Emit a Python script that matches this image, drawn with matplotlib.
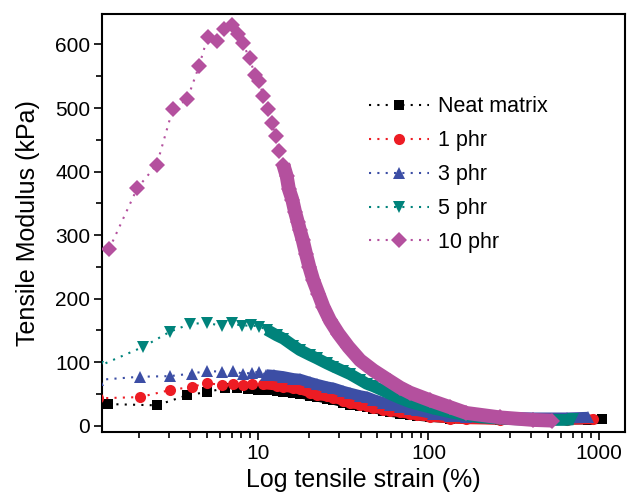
import matplotlib
matplotlib.use("Agg")
import matplotlib.pyplot as plt
from matplotlib.ticker import LogLocator, NullFormatter, MultipleLocator

plt.rcParams['font.family'] = ['Liberation Sans', 'DejaVu Sans']

# strain (%) and tensile modulus (kPa)
neat_strain = [1.32, 2.55, 3.85, 5.04, 6.40, 7.50, 8.78, 10.0,
               11.2, 12.9, 14.1, 16.1, 17.6, 20.2, 22.1, 25.3, 27.7, 31.6, 34.7, 39.7,
               43.4, 47.5, 54.3, 59.5, 68.1, 77.8, 85.3, 102, 134, 167, 200, 263, 412, 647, 861, 1038]
neat_mod = [34, 32, 48, 53, 59, 59, 57, 56,
            56, 55, 53, 51, 50, 47, 45, 42, 40, 36, 33, 31,
            29, 27, 23, 21, 19, 17, 15, 13, 11, 10, 10, 9, 9, 9, 9, 10]

phr1_strain = [1.15, 2.03, 3.05, 4.08, 5.04, 6.12, 7.11, 8.13, 9.19, 10.74,
               12.9, 14.1, 16.1, 17.6, 20.2, 22.1, 25.3, 27.7, 31.6, 34.7, 39.7,
               43.4, 47.5, 54.3, 59.5, 68.1, 77.8, 85.3, 102, 134, 167, 263, 412, 647, 922]
phr1_mod = [43, 45, 56, 61, 67, 64, 66, 64, 66, 65,
            63, 61, 59, 57, 52, 48, 46, 44, 39, 35, 33,
            31, 28, 25, 23, 21, 18, 16, 14, 11, 10, 9, 9, 9, 10]

phr3_strain = [1.15, 2.03, 3.05, 4.08, 5.04, 6.12, 7.11, 8.13, 9.19, 10.18,
               11.2, 12.4, 14.1, 16.1, 17.6, 20.2, 22.1, 25.3, 27.7, 31.6, 34.7, 39.7,
               43.4, 47.5, 54.3, 59.5, 68.1, 77.8, 85.3, 107, 134, 167, 263, 412, 647, 861]
phr3_mod = [72, 77, 78, 82, 86, 85, 86, 82, 83, 85,
            80, 79, 77, 74, 73, 68, 65, 61, 59, 54, 51, 47,
            45, 41, 36, 33, 30, 26, 24, 19, 15, 14, 13, 12, 12, 13]

phr5_strain = [1.15, 2.12, 3.05, 3.99, 5.00, 6.12, 7.01, 8.02, 9.06, 10.18, 11.24,
               12.9, 14.1, 16.1, 17.6, 20.2, 22.1, 25.3, 27.7, 31.6, 34.7, 39.7,
               43.4, 47.5, 54.3, 59.5, 68.1, 77.8, 85.3, 107, 134, 167, 200, 263, 412, 647, 705]
phr5_mod = [93, 124, 148, 160, 162, 157, 162, 157, 158, 156, 151,
            142, 137, 126, 119, 111, 106, 98, 93, 86, 81, 72,
            66, 62, 55, 50, 43, 37, 34, 27, 21, 16.5, 13, 11, 9, 9, 10]

phr10_strain = [1.34, 1.96, 2.55, 3.16, 3.85, 4.51, 5.07, 5.73, 6.32, 7.01, 7.66, 8.13,
                8.94, 9.60, 10.18, 10.74, 11.49, 12.03, 12.70, 13.28, 14.07, 14.73, 15.19, 15.89,
                16.48, 17.1, 17.6, 18.3, 19.1, 20.0, 21.1, 22.6, 24.2, 26.4, 29.6, 33.9,
                39.7, 47.5, 59.5, 68.1, 77.8, 102, 134, 167, 263, 412, 527]
phr10_mod = [278, 374, 411, 498, 514, 566, 612, 606, 624, 631, 616, 602,
             578, 552, 542, 519, 498, 477, 456, 432, 411, 393, 372, 356,
             337, 321, 308, 292, 271, 250, 229, 208, 187, 166, 145, 124,
             103, 87, 70, 60, 52, 40, 29, 20, 13, 9, 8]

labels = ['Neat matrix', '1 phr', '3 phr', '5 phr', '10 phr']
colors = ['#000000', '#ED1C24', '#3C4EA5', '#00837B', '#B4509E']
markers = ['s', 'o', '^', 'v', 'D']
sizes = [7, 8, 9, 9, 8]
band_lw = [6.5, 7, 8, 8.5, 10]
band_from = [10.0, 10.7, 10.2, 11.2, 14.0]  # where points merge into a solid band

series = [(neat_strain, neat_mod), (phr1_strain, phr1_mod), (phr3_strain, phr3_mod),
          (phr5_strain, phr5_mod), (phr10_strain, phr10_mod)]

fig = plt.figure(figsize=(6.31, 4.93), dpi=100)
ax = fig.add_axes([0.1616, 0.1237, 0.8288, 0.8479])

for i, ((xs, ys), lab, c, m, ms, lw, b0) in enumerate(
        zip(series, labels, colors, markers, sizes, band_lw, band_from)):
    bx = [x for x in xs if x >= b0]
    by = [y for x, y in zip(xs, ys) if x >= b0]
    ax.plot(bx, by, '-', color=c, lw=lw, solid_capstyle='butt', zorder=2 + 2 * i)
    ax.plot(xs, ys, linestyle=(0, (1, 3)), lw=1.5, color=c, marker=m, ms=ms,
            markeredgewidth=0, label=lab, zorder=3 + 2 * i)

ax.set_xscale('log')
ax.set_xlim(1.216, 1420)
ax.set_ylim(-10, 648)
ax.set_xticks([10, 100, 1000])
ax.set_xticklabels(['10', '100', '1000'])
ax.xaxis.set_minor_locator(LogLocator(base=10, subs=range(2, 10)))
ax.xaxis.set_minor_formatter(NullFormatter())
ax.yaxis.set_major_locator(MultipleLocator(100))
ax.yaxis.set_minor_locator(MultipleLocator(50))

ax.tick_params(which='both', direction='out', top=False, right=False, width=1.2,
               labelsize=15)
ax.tick_params(which='major', length=5.5, pad=3)
ax.tick_params(which='minor', length=4)
for sp in ax.spines.values():
    sp.set_linewidth(1.5)

ax.set_xlabel('Log tensile strain (%)', fontsize=18, labelpad=4)
ax.set_ylabel('Tensile Modulus (kPa)', fontsize=18, labelpad=11)

ax.legend(loc='upper left', bbox_to_anchor=(0.51, 0.803), frameon=False,
          fontsize=15.5, numpoints=1, handlelength=2.8, handletextpad=0.4,
          labelspacing=0.6, borderpad=0, borderaxespad=0)

fig.savefig('out.png', dpi=100)
